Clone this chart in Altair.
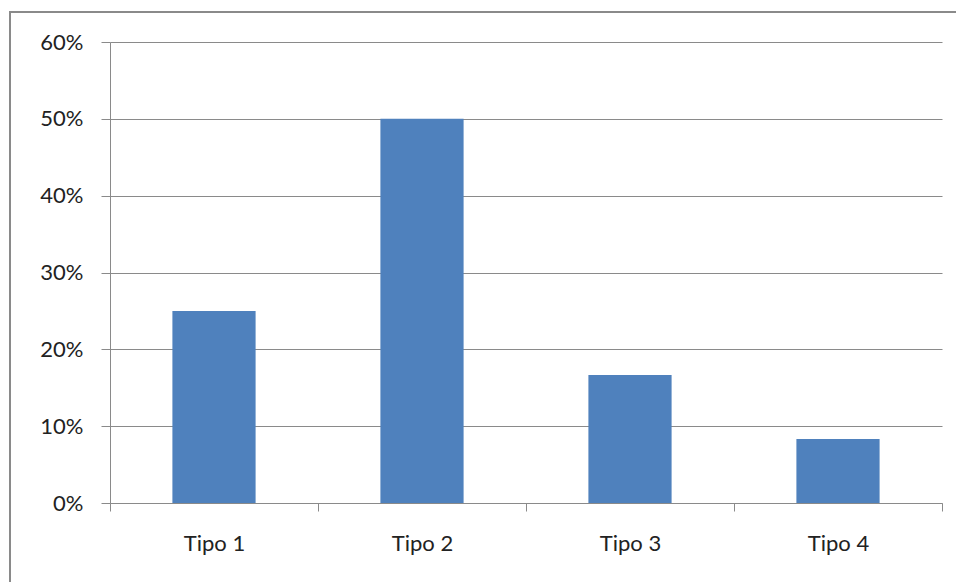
import altair as alt
import pandas as pd

categories = ["Tipo 1", "Tipo 2", "Tipo 3", "Tipo 4"]
values = [0.25, 0.50, 0.1667, 0.0833]

df = pd.DataFrame({"tipo": categories, "valor": values})

GRAY = "#8a8a8a"
TEXT = "#222222"
FONT = "Lato"

bars = alt.Chart(df).mark_bar(
    color="#4F81BD", width=alt.RelativeBandSize(0.4)
).encode(
    x=alt.X(
        "tipo:N",
        sort=categories,
        title=None,
        scale=alt.Scale(paddingInner=0, paddingOuter=0),
        axis=alt.Axis(
            labelAngle=0,
            tickBand="extent",
            tickSize=8,
            tickColor=GRAY,
            domainColor=GRAY,
            labelPadding=22,
            labelFontSize=22,
            labelFont=FONT,
            labelColor=TEXT,
            grid=False,
        ),
    ),
    y=alt.Y(
        "valor:Q",
        title=None,
        scale=alt.Scale(domain=[0, 0.6], nice=False),
        axis=alt.Axis(
            format=".0%",
            values=[0, 0.1, 0.2, 0.3, 0.4, 0.5, 0.6],
            tickSize=9,
            tickColor=GRAY,
            domainColor=GRAY,
            gridColor=GRAY,
            labelPadding=18,
            labelFontSize=22,
            labelFont=FONT,
            labelColor=TEXT,
        ),
    ),
)

frame = alt.Chart(pd.DataFrame({"k": [0]})).mark_rect(
    fill=None, stroke=GRAY, strokeWidth=2
).encode(
    x=alt.value(-100), x2=alt.value(1000),
    y=alt.value(-30), y2=alt.value(700),
)

chart = alt.layer(bars, frame).properties(
    width=832,
    height=461,
    autosize=alt.AutoSizeParams(type="none"),
    padding={"left": 110, "top": 42, "right": 14, "bottom": 79},
    background="white",
).configure_view(stroke=None)

chart.save("out.html", embed_options={"renderer": "svg", "actions": False})
